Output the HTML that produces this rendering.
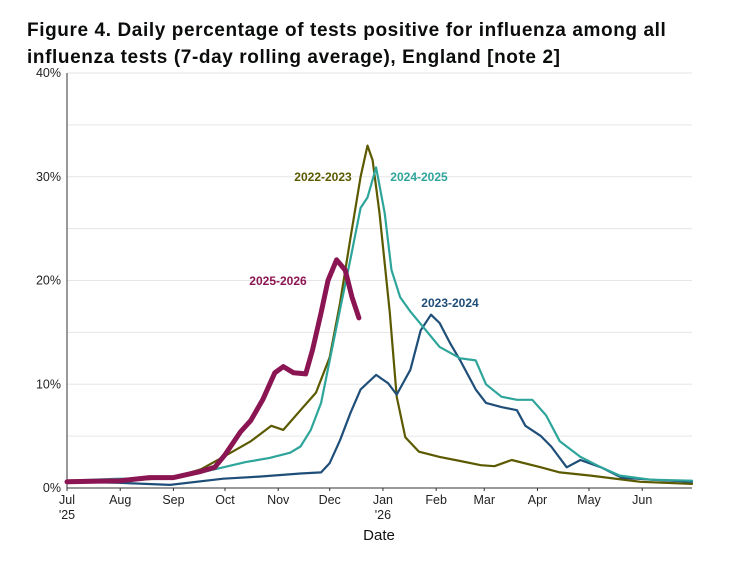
<!DOCTYPE html>
<html><head><meta charset="utf-8"><style>
body{margin:0;background:#fff;width:751px;height:562px;overflow:hidden;font-family:"Liberation Sans",sans-serif}
h1{position:absolute;left:27px;top:17px;margin:0;font-size:19px;line-height:27px;font-weight:bold;color:#0b0c0c;width:720px;letter-spacing:0.6px;white-space:nowrap}
svg{position:absolute;left:0;top:0}
</style></head><body>
<h1>Figure 4. Daily percentage of tests positive for influenza among all<br>influenza tests (7-day rolling average), England [note 2]</h1>
<svg id="c" width="751" height="562"></svg>
<script>
const yTicks=[0,10,20,30,40];
const yTickLabels=["0%","10%","20%","30%","40%"];
const monthDays=[0,31,62,92,123,153,184,215,243,274,304,335];
const monthLabels=["Jul","Aug","Sep","Oct","Nov","Dec","Jan","Feb","Mar","Apr","May","Jun"];
const seriesNames=["2022-2023","2023-2024","2024-2025","2025-2026"];
const days2223=[0,19,43,62,78,91,107,119,126,136,145,153,159,165,171,175,178,182,188,192,197,205,217,229,241,249,259,276,287,305,334,364];
const vals2223=[0.6,0.7,0.8,1.0,1.8,3.0,4.5,6.0,5.6,7.5,9.2,12.6,17.8,24,30,33,31.6,26.5,16.9,8.8,4.9,3.5,3.0,2.6,2.2,2.1,2.7,2.0,1.5,1.2,0.6,0.4];
const days2324=[0,30,60,91,112,136,148,153,159,165,171,180,187,192,200,206,212,217,223,229,238,244,253,262,267,276,282,291,299,311,323,340,364];
const vals2324=[0.6,0.5,0.3,0.9,1.1,1.4,1.5,2.4,4.6,7.2,9.5,10.9,10.1,9,11.4,15.2,16.7,15.9,14,12.3,9.5,8.2,7.8,7.5,6,5,4,2,2.7,2,1,0.8,0.6];
const days2425=[0,30,62,91,104,118,130,136,142,148,153,159,165,171,175,180,185,189,194,200,209,217,229,238,244,253,262,271,279,287,299,311,322,340,364];
const vals2425=[0.7,0.9,0.9,2.0,2.5,2.9,3.4,4,5.6,8.2,12.3,17.2,22,27,28,30.9,26.5,21,18.4,17,15.2,13.6,12.5,12.3,10,8.8,8.5,8.5,7,4.5,3,2,1.2,0.8,0.7];
const days2526=[0,31,48,62,78,86,92,101,107,114,121,126,132,139,143,148,152,157,162,166,170];
const vals2526=[0.6,0.7,1,1,1.6,2,3.2,5.4,6.5,8.5,11.1,11.7,11.1,11,13.3,16.9,20,22,21,18.4,16.4];
const colors=["#5b5a00","#1f4e79","#2ea59b","#8a1552"];
const X0=67,X1=692,Y0=488,YT=73;
const xs=d=>X0+d*(X1-X0)/364;
const ys=v=>Y0-v*(Y0-YT)/40;
const svg=document.getElementById('c');const NS="http://www.w3.org/2000/svg";
function mk(t,a,p){const e=document.createElementNS(NS,t);for(const k in a)e.setAttribute(k,a[k]);(p||svg).appendChild(e);return e;}
for(let v=5;v<=40;v+=5){const g=mk('line',{x1:X0,x2:X1,y1:ys(v),y2:ys(v),stroke:'#e6e6e6','stroke-width':1});

}
yTicks.forEach((v,i)=>{const t=mk('text',{x:X0-6,y:ys(v)+4,'text-anchor':'end','font-size':12.5,fill:'#222'});t.textContent=yTickLabels[i];

});
monthDays.forEach((d,i)=>{const t=mk('text',{x:xs(d),y:504,'text-anchor':'middle','font-size':12.5,fill:'#222'});t.textContent=monthLabels[i];


mk('line',{x1:xs(d),x2:xs(d),y1:Y0,y2:Y0+3,stroke:'#333'});});
[[0,"'25"],[184,"'26"]].forEach(a=>{const t=mk('text',{x:xs(a[0]),y:519,'text-anchor':'middle','font-size':12.5,fill:'#222'});t.textContent=a[1];

});
const xt=mk('text',{x:379,y:540,'text-anchor':'middle','font-size':15,fill:'#111'});xt.textContent="Date";


mk('line',{x1:X0,x2:X0,y1:YT,y2:Y0,stroke:'#333'});
mk('line',{x1:X0,x2:X1,y1:Y0,y2:Y0,stroke:'#333'});
const data=[[days2223,vals2223],[days2324,vals2324],[days2425,vals2425],[days2526,vals2526]];
data.forEach((s,i)=>{const pts=s[0].map((d,j)=>xs(d).toFixed(1)+','+ys(s[1][j]).toFixed(1)).join(' ');
const p=mk('polyline',{points:pts,fill:'none',stroke:colors[i],'stroke-width':i==3?5:2.2,'stroke-linejoin':'round','stroke-linecap':'round'});

});
const labs=[[323,181],[450,307],[419,181],[278,285]];
labs.forEach((l,i)=>{const t=mk('text',{x:l[0],y:l[1],'text-anchor':'middle','font-size':12,'font-weight':'bold',fill:colors[i]});t.textContent=seriesNames[i];

});
</script>
</body></html>
